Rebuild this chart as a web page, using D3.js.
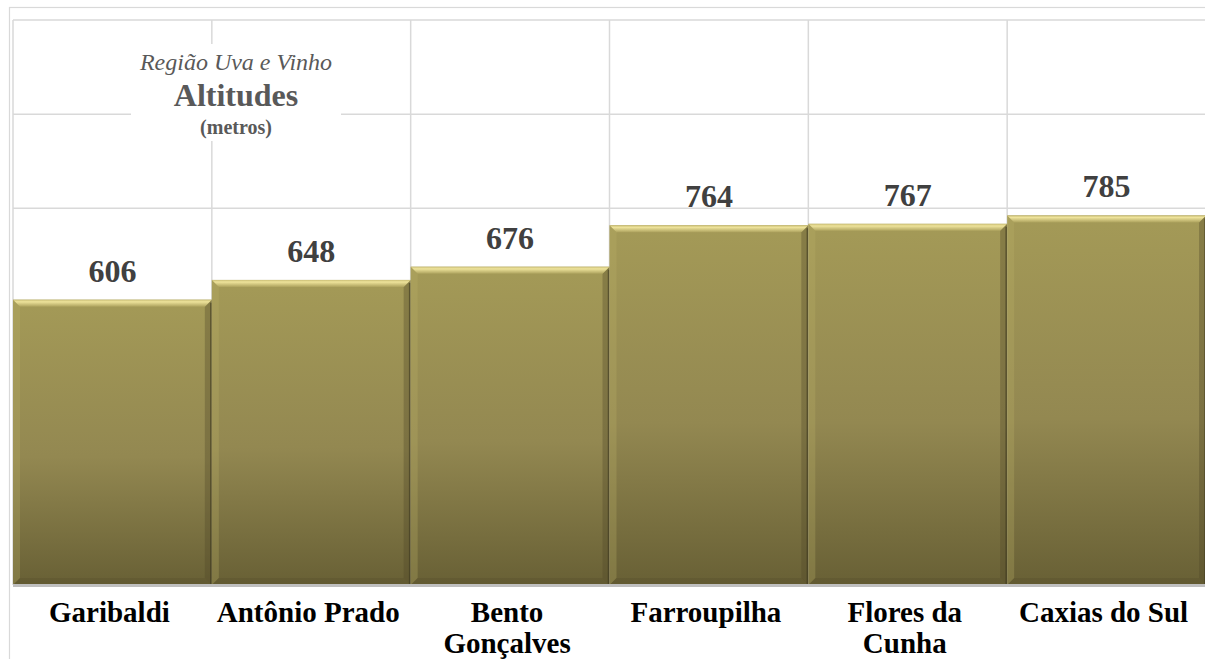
<!DOCTYPE html>
<html>
<head>
<meta charset="utf-8">
<script src="https://cdn.jsdelivr.net/npm/d3@7"></script>
<style>
  html, body { margin: 0; padding: 0; background: #fff; overflow: hidden; }
  svg { display: block; }
  svg text { font-family: "Liberation Serif", "DejaVu Serif", serif; }
</style>
</head>
<body>
<svg id="chart" width="1205" height="659"></svg>
<script>
// Altitudes of the Serra Gaúcha municipalities (metres)
const cities = ["Garibaldi", "Antônio Prado", "Bento Gonçalves", "Farroupilha", "Flores da Cunha", "Caxias do Sul"];
const altitudes = [606, 648, 676, 764, 767, 785];
const yTicks = [0, 200, 400, 600, 800, 1000, 1200];
const titleLines = ["Região Uva e Vinho", "Altitudes", "(metros)"];

const svg = d3.select("#chart");

const plot = { left: 13, right: 1206, top: 20, bottom: 585 };

const x = d3.scaleBand().domain(cities).range([plot.left, plot.right]).padding(0);
const y = d3.scaleLinear().domain([0, 1200]).range([plot.bottom, plot.top]);

// outer chart frame
svg.append("rect")
  .attr("x", 9.5).attr("y", 7.5).attr("width", 1210).attr("height", 670)
  .attr("fill", "none").attr("stroke", "#d9d9d9").attr("stroke-width", 1.2);

const defs = svg.append("defs");
const body = defs.append("linearGradient").attr("id", "barBody")
  .attr("x1", 0).attr("y1", 0).attr("x2", 0).attr("y2", 1);
body.append("stop").attr("offset", "0%").attr("stop-color", "#a49a57");
body.append("stop").attr("offset", "55%").attr("stop-color", "#938851");
body.append("stop").attr("offset", "100%").attr("stop-color", "#686035");

const topBevel = defs.append("linearGradient").attr("id", "topBevel")
  .attr("x1", 0).attr("y1", 0).attr("x2", 0).attr("y2", 1);
topBevel.append("stop").attr("offset", "0%").attr("stop-color", "#c9bd74");
topBevel.append("stop").attr("offset", "30%").attr("stop-color", "#eee39b");
topBevel.append("stop").attr("offset", "100%").attr("stop-color", "#aea35e");

// horizontal gridlines
svg.append("g").selectAll("line").data(yTicks.slice(1)).join("line")
  .attr("x1", plot.left).attr("x2", plot.right)
  .attr("y1", d => y(d)).attr("y2", d => y(d))
  .attr("stroke", "#d9d9d9").attr("stroke-width", 1.5);

// vertical gridlines on category boundaries
const bounds = cities.map(c => x(c)).concat([x(cities[cities.length - 1]) + x.bandwidth()]);
svg.append("g").selectAll("line").data(bounds).join("line")
  .attr("x1", d => d).attr("x2", d => d)
  .attr("y1", plot.top).attr("y2", plot.bottom)
  .attr("stroke", "#d9d9d9").attr("stroke-width", 1.5);

// title block with white backing
svg.append("rect").attr("x", 131).attr("y", 44).attr("width", 210).attr("height", 97).attr("fill", "#fff");
const tcx = 236;
svg.append("text").attr("x", tcx).attr("y", 70).attr("text-anchor", "middle")
  .style("font-style", "italic").attr("font-size", 24)
  .attr("fill", "#595959").text(titleLines[0]);
svg.append("text").attr("x", tcx).attr("y", 106).attr("text-anchor", "middle")
  .attr("font-weight", "bold").attr("font-size", 32)
  .attr("fill", "#595959").text(titleLines[1]);
svg.append("text").attr("x", tcx).attr("y", 134).attr("text-anchor", "middle")
  .attr("font-weight", "bold").attr("font-size", 20)
  .attr("fill", "#595959").text(titleLines[2]);

// bevelled bars
const b = 7;
const bars = svg.append("g").selectAll("g").data(cities.map((c, i) => ({ c, v: altitudes[i] }))).join("g");
bars.each(function (d) {
  const g = d3.select(this);
  const x0 = x(d.c), x1 = x0 + x.bandwidth(), y0 = y(d.v), y1 = y(0);
  g.append("rect").attr("x", x0).attr("y", y0).attr("width", x1 - x0).attr("height", y1 - y0)
    .attr("fill", "url(#barBody)");
  // left face
  g.append("polygon").attr("points", [[x0, y0], [x0 + b, y0 + b], [x0 + b, y1 - b], [x0, y1]].join(" "))
    .attr("fill", "#b9ae68").attr("opacity", 0.3);
  // right face
  g.append("polygon").attr("points", [[x1, y0], [x1 - b, y0 + b], [x1 - b, y1 - b], [x1, y1]].join(" "))
    .attr("fill", "#4f4828").attr("opacity", 0.35);
  // bottom face
  g.append("polygon").attr("points", [[x0, y1], [x0 + b, y1 - b], [x1 - b, y1 - b], [x1, y1]].join(" "))
    .attr("fill", "#4f4828").attr("opacity", 0.25);
  // top face
  g.append("polygon").attr("points", [[x0, y0], [x1, y0], [x1 - b, y0 + b], [x0 + b, y0 + b]].join(" "))
    .attr("fill", "url(#topBevel)");
  // dark seam on the right edge
  g.append("line").attr("x1", x1 - 1).attr("x2", x1 - 1).attr("y1", y0 + 3).attr("y2", y1)
    .attr("stroke", "#3e3920").attr("stroke-width", 1.5).attr("opacity", 0.6);
});

// value labels
svg.append("g").selectAll("text").data(cities).join("text")
  .attr("x", d => x(d) + x.bandwidth() / 2)
  .attr("y", (d, i) => y(altitudes[i]) - 18)
  .attr("text-anchor", "middle")
  .attr("font-weight", "bold").attr("font-size", 32)
  .attr("fill", "#404040")
  .text((d, i) => altitudes[i]);

// category axis line
svg.append("line").attr("x1", plot.left).attr("x2", plot.right)
  .attr("y1", plot.bottom + 0.5).attr("y2", plot.bottom + 0.5)
  .attr("stroke", "#bfbfbf").attr("stroke-width", 3);

// category labels, wrapped to the band width
const labels = svg.append("g").selectAll("text").data(cities).join("text")
  .attr("text-anchor", "middle")
  .attr("font-weight", "bold").attr("font-size", 29)
  .attr("fill", "#000");
labels.each(function (d) {
  const t = d3.select(this);
  const cx = x(d) + x.bandwidth() / 2 - 3;
  const words = d.split(" ");
  let lines = [], line = [];
  const probe = t.append("tspan");
  words.forEach(w => {
    const trial = line.concat([w]).join(" ");
    probe.text(trial);
    if (probe.node().getComputedTextLength() > 195 && line.length) {
      lines.push(line.join(" "));
      line = [w];
    } else line.push(w);
  });
  lines.push(line.join(" "));
  probe.remove();
  lines.forEach((l, i) => {
    t.append("tspan").attr("x", cx).attr("y", 622 + i * 31).text(l);
  });
});
</script>
</body>
</html>
